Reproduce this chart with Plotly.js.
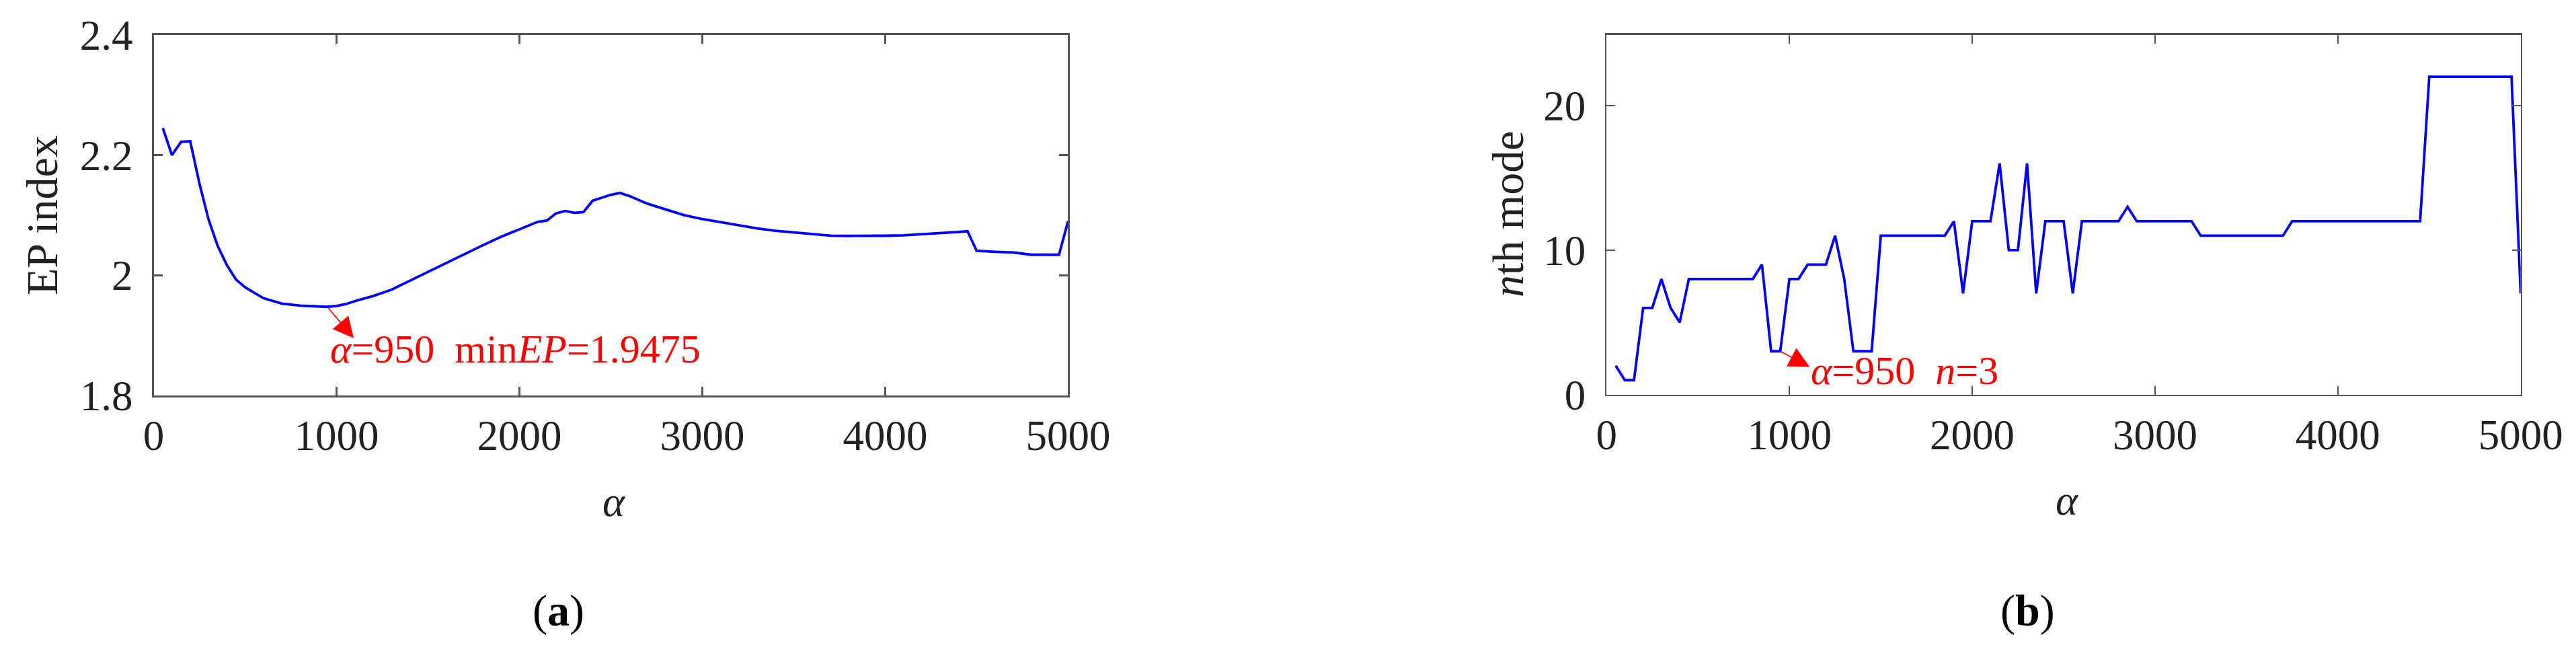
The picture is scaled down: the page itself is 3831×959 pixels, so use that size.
<!DOCTYPE html>
<html>
<head>
<meta charset="utf-8">
<script src="https://cdn.plot.ly/plotly-3.0.1.min.js"></script>
<style>
  html, body { margin: 0; padding: 0; background: #fff; }
  #chart { width: 3831px; height: 959px; }
</style>
</head>
<body>
<div id="chart"></div>
<script>
// (a) EP index against alpha
const alphaEP = [50, 100, 150, 200, 250, 300, 350, 400, 450, 500, 600, 700, 800, 900, 950,
  1000, 1050, 1100, 1200, 1300, 1400, 1500, 1600, 1700, 1800, 1900, 2000, 2050, 2100, 2150,
  2200, 2250, 2300, 2350, 2400, 2450, 2500, 2550, 2600, 2700, 2800, 2900, 3000, 3100, 3200,
  3300, 3400, 3500, 3600, 3700, 3800, 3900, 4000, 4100, 4200, 4300, 4400, 4450, 4500, 4600,
  4700, 4800, 4900, 4950, 5000];
const epIndex = [2.245, 2.200, 2.222, 2.223, 2.153, 2.093, 2.049, 2.017, 1.993, 1.980, 1.962, 1.953, 1.9495, 1.948, 1.9475,
  1.949, 1.952, 1.957, 1.9655, 1.976, 1.991, 2.006, 2.020, 2.035, 2.050, 2.064, 2.076, 2.082, 2.089, 2.091,
  2.103, 2.107, 2.104, 2.105, 2.124, 2.129, 2.134, 2.137, 2.132, 2.119, 2.109, 2.100, 2.0935, 2.088, 2.083,
  2.078, 2.074, 2.071, 2.068, 2.066, 2.0655, 2.0654, 2.0658, 2.0665, 2.068, 2.070, 2.072, 2.0733, 2.0406, 2.039,
  2.038, 2.0342, 2.0342, 2.0342, 2.090];

// (b) mode number against alpha
const alphaMode = [50, 100, 150, 200, 250, 300, 350, 400, 450, 800, 850, 900, 950, 1000, 1050,
  1100, 1200, 1250, 1300, 1350, 1450, 1500, 1850, 1900, 1950, 2000, 2100, 2150, 2200, 2250,
  2300, 2350, 2400, 2500, 2550, 2600, 2800, 2850, 2900, 3200, 3250, 3700, 3750, 4450, 4500,
  4950, 5000];
const nthMode = [2, 1, 1, 6, 6, 8, 6, 5, 8, 8, 9, 3, 3, 8, 8,
  9, 9, 11, 8, 3, 3, 11, 11, 12, 7, 12, 12, 16, 10, 10,
  16, 7, 12, 12, 7, 12, 12, 13, 12, 12, 11, 11, 12, 12, 22,
  22, 7];

const xTicks = [0, 1000, 2000, 3000, 4000, 5000];
const epTicks = [1.8, 2, 2.2, 2.4];
const modeTicks = [0, 10, 20];

const FONT = "Liberation Serif, Times New Roman, serif";
const NB = "\u00A0";

const axisStyle = {
  showgrid: false, zeroline: false, showline: true, mirror: "ticks",
  linecolor: "#555", linewidth: 2.5, ticks: "inside", ticklen: 13, tickwidth: 2.5,
  tickcolor: "#555", tickfont: { family: FONT, size: 63, color: "#222" }
};

const traces = [
  { x: alphaEP, y: epIndex, type: "scatter", mode: "lines", xaxis: "x", yaxis: "y",
    line: { color: "#0000ff", width: 3.8 }, hoverinfo: "skip" },
  { x: alphaMode, y: nthMode, type: "scatter", mode: "lines", xaxis: "x2", yaxis: "y2",
    line: { color: "#0000ff", width: 3.8 }, hoverinfo: "skip" }
];

const red = "#ff0000";
function label(x, y, text, size, extra) {
  return Object.assign({ xref: "paper", yref: "paper", x: x / 3831, y: (959 - y) / 959,
    xanchor: "center", yanchor: "middle", showarrow: false, text: text,
    font: { family: FONT, size: size, color: "#222" } }, extra || {});
}

const layout = {
  width: 3831, height: 959,
  margin: { l: 0, r: 0, t: 0, b: 0 },
  paper_bgcolor: "#fff", plot_bgcolor: "#fff",
  showlegend: false,
  xaxis: Object.assign({}, axisStyle, { domain: [0.05965, 0.41464], range: [0, 5000],
    tickvals: xTicks, ticklabelstandoff: 3, anchor: "y" }),
  yaxis: Object.assign({}, axisStyle, { domain: [0.3868, 0.9460], range: [1.8, 2.4],
    tickvals: epTicks, ticktext: ["1.8", "2", "2.2", "2.4"], ticklabelstandoff: 16, anchor: "x" }),
  xaxis2: Object.assign({}, axisStyle, { domain: [0.62367, 0.97852], range: [0, 5000],
    tickvals: xTicks, ticklabelstandoff: 3, anchor: "y2" }),
  yaxis2: Object.assign({}, axisStyle, { domain: [0.3882, 0.9460], range: [0, 24.9],
    tickvals: modeTicks, ticklabelstandoff: 16, anchor: "x2" }),
  annotations: [
    // arrows from the minimum toward the labels
    { xref: "x", yref: "y", x: 1094, y: 1.8955, ax: 950, ay: 1.9475, axref: "x", ayref: "y",
      text: "", showarrow: true, arrowhead: 2, arrowsize: 3.4, arrowwidth: 1.8, arrowcolor: red },
    { xref: "x", yref: "y", x: 958, y: 1.877, xanchor: "left", yanchor: "middle", showarrow: false,
      text: "<i>α</i>=950" + NB + NB + "min<i>EP</i>=1.9475", font: { family: FONT, size: 60, color: red } },
    { xref: "x2", yref: "y2", x: 1111, y: 1.92, ax: 950, ay: 3, axref: "x2", ayref: "y2",
      text: "", showarrow: true, arrowhead: 2, arrowsize: 3.4, arrowwidth: 1.8, arrowcolor: red },
    { xref: "x2", yref: "y2", x: 1111, y: 1.68, xanchor: "left", yanchor: "middle", showarrow: false,
      text: "<i>α</i>=950" + NB + NB + "<i>n</i>=3", font: { family: FONT, size: 60, color: red } },
    // axis titles
    label(62, 320, "EP index", 66, { textangle: -90 }),
    label(2242, 319, "<i>n</i>th mode", 66, { textangle: -90 }),
    label(913, 746, "<i>α</i>", 63),
    label(3074, 744, "<i>α</i>", 63),
    // panel labels
    label(830, 908, "(<b>a</b>)", 66, { font: { family: FONT, size: 66, color: "#000" } }),
    label(3015, 908, "(<b>b</b>)", 66, { font: { family: FONT, size: 66, color: "#000" } })
  ]
};

Plotly.newPlot("chart", traces, layout, { staticPlot: true, displayModeBar: false });
</script>
</body>
</html>
